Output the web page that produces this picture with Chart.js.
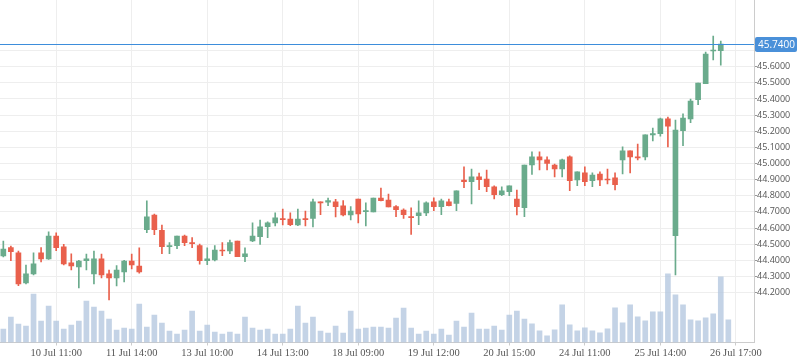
<!DOCTYPE html>
<html>
<head>
<meta charset="utf-8">
<script src="https://cdn.jsdelivr.net/npm/chart.js@4.4.0/dist/chart.umd.min.js"></script>
<style>
  html, body { margin: 0; padding: 0; background: #fff; }
</style>
</head>
<body>
<canvas id="chart" width="798" height="363"></canvas>
<script>
// ---------------- data ----------------
const opens = [44.427,44.479,44.446,44.260,44.316,44.446,44.409,44.551,44.483,44.384,
  44.359,44.398,44.316,44.409,44.316,44.291,44.328,44.396,44.365,44.590,
  44.681,44.586,44.485,44.491,44.551,44.510,44.491,44.398,44.402,44.464,
  44.458,44.520,44.423,44.520,44.547,44.609,44.632,44.659,44.656,44.619,
  44.659,44.659,44.762,44.760,44.762,44.737,44.681,44.780,44.702,44.700,
  44.786,44.774,44.733,44.712,44.671,44.677,44.694,44.762,44.733,44.762,
  44.752,44.898,44.888,44.917,44.904,44.855,44.807,44.826,44.780,44.727,
  44.991,45.041,45.022,44.991,44.966,45.041,44.898,44.942,44.894,44.935,
  44.904,44.911,45.022,45.078,45.041,45.041,45.177,45.185,45.276,44.553,
  45.203,45.276,45.395,45.494,45.697,45.699];
const highs = [44.520,44.489,44.458,44.371,44.446,44.479,44.576,44.570,44.499,44.441,
  44.400,44.439,44.458,44.439,44.340,44.367,44.400,44.439,44.477,44.768,
  44.687,44.619,44.510,44.551,44.557,44.541,44.501,44.477,44.491,44.510,
  44.526,44.520,44.477,44.632,44.650,44.638,44.694,44.718,44.694,44.718,
  44.706,44.780,44.762,44.786,44.778,44.770,44.733,44.780,44.756,44.786,
  44.848,44.811,44.739,44.719,44.725,44.768,44.762,44.787,44.780,44.780,
  44.830,44.979,44.966,44.941,44.960,44.861,44.855,44.861,44.836,44.990,
  45.072,45.072,45.041,44.997,45.028,45.047,44.948,44.979,44.942,44.948,
  44.966,44.942,45.103,45.078,45.121,45.177,45.220,45.282,45.288,45.269,
  45.307,45.399,45.499,45.691,45.790,45.759];
const lows = [44.421,44.398,44.243,44.254,44.309,44.390,44.405,44.460,44.371,44.340,
  44.229,44.340,44.254,44.291,44.155,44.241,44.266,44.347,44.320,44.572,
  44.559,44.442,44.442,44.473,44.491,44.479,44.377,44.373,44.396,44.429,
  44.442,44.423,44.392,44.516,44.499,44.541,44.613,44.619,44.615,44.615,
  44.613,44.607,44.683,44.739,44.669,44.675,44.650,44.632,44.613,44.700,
  44.768,44.731,44.671,44.659,44.560,44.621,44.677,44.708,44.683,44.737,
  44.708,44.851,44.749,44.838,44.826,44.780,44.801,44.801,44.681,44.671,
  44.932,44.960,44.960,44.917,44.917,44.832,44.863,44.863,44.857,44.863,
  44.874,44.836,44.935,44.942,45.022,45.022,45.140,45.170,45.102,44.309,
  45.110,45.253,45.364,45.494,45.641,45.610];
const closes = [44.470,44.454,44.254,44.316,44.378,44.409,44.551,44.479,44.378,44.365,
  44.396,44.409,44.409,44.309,44.291,44.340,44.396,44.371,44.328,44.669,
  44.590,44.485,44.491,44.551,44.510,44.503,44.398,44.409,44.464,44.458,
  44.510,44.423,44.440,44.551,44.607,44.632,44.663,44.652,44.621,44.656,
  44.652,44.762,44.756,44.770,44.733,44.681,44.706,44.687,44.708,44.786,
  44.770,44.731,44.714,44.683,44.665,44.694,44.756,44.733,44.768,44.739,
  44.830,44.888,44.917,44.900,44.857,44.807,44.830,44.861,44.733,44.990,
  45.041,45.022,45.000,44.966,45.022,44.894,44.948,44.888,44.929,44.898,
  44.898,44.869,45.078,45.041,45.035,45.177,45.185,45.276,45.232,45.207,
  45.282,45.387,45.499,45.678,45.701,45.740];
const volumes = [133,253,183,163,483,213,363,213,133,173,
  213,413,353,313,233,123,143,133,383,153,
  273,193,113,83,123,313,113,173,103,83,
  103,83,253,143,123,133,83,83,133,363,
  193,253,113,93,163,93,313,133,143,153,
  153,143,243,343,143,83,113,83,133,73,
  213,153,293,133,133,163,123,273,313,235,
  187,117,67,127,377,177,117,147,117,97,
  137,347,197,377,257,217,307,307,687,477,
  377,227,217,247,287,657,227];
const lastPrice = 45.74;

const tickIdx = [7, 17, 27, 37, 47, 57, 67, 77, 87, 97];
const tickLabels = ['10 Jul 11:00', '11 Jul 14:00', '13 Jul 10:00', '14 Jul 13:00', '18 Jul 09:00',
  '19 Jul 12:00', '20 Jul 15:00', '24 Jul 11:00', '25 Jul 14:00', '26 Jul 17:00'];
const priceTicks = [44.2, 44.3, 44.4, 44.5, 44.6, 44.7, 44.8, 44.9, 45.0, 45.1, 45.2, 45.3, 45.4, 45.5, 45.6, 45.7];

// ---------------- styles ----------------
const UP = '#6aab8c';
const DOWN = '#e9604c';
const LINE_BLUE = '#3d8ddb';

function candleColor(ctx) {
  const i = ctx.dataIndex;
  return closes[i] >= opens[i] ? UP : DOWN;
}

// ligne + étiquette du dernier prix
const lastPricePlugin = {
  id: 'lastPrice',
  afterDatasetsDraw(chart) {
    const { ctx, chartArea, scales } = chart;
    const y = Math.round(scales.y.getPixelForValue(lastPrice)) + 0.5;
    ctx.save();
    ctx.strokeStyle = LINE_BLUE;
    ctx.lineWidth = 1;
    ctx.beginPath();
    ctx.moveTo(chartArea.left, y);
    ctx.lineTo(chartArea.right, y);
    ctx.stroke();

    const bx = chartArea.right + 1, bw = 42, bh = 15, by = y - 7.5;
    ctx.fillStyle = '#4a90d9';
    ctx.beginPath();
    ctx.roundRect(bx, by, bw, bh, 2);
    ctx.fill();
    ctx.fillStyle = '#fff';
    ctx.font = '10px "Open Sans", sans-serif';
    ctx.textBaseline = 'middle';
    ctx.textAlign = 'left';
    ctx.fillText(lastPrice.toFixed(4), bx + 3, y + 0.5);
    ctx.restore();
  }
};

const chart = new Chart(document.getElementById('chart').getContext('2d'), {
  type: 'bar',
  data: {
    datasets: [
      {
        label: 'body',
        data: opens.map((o, i) => ({ x: i, y: [o, closes[i]] })),
        backgroundColor: candleColor,
        barThickness: 5,
        minBarLength: 1,
        grouped: false,
        order: 1
      },
      {
        label: 'wick',
        data: lows.map((l, i) => ({ x: i, y: [l, highs[i]] })),
        backgroundColor: candleColor,
        barThickness: 1,
        grouped: false,
        order: 2
      },
      {
        label: 'volume',
        data: volumes.map((v, i) => ({ x: i, y: v })),
        yAxisID: 'yv',
        backgroundColor: 'rgba(176, 196, 222, 0.75)',
        barThickness: 5,
        grouped: false,
        order: 3
      }
    ]
  },
  options: {
    responsive: false,
    animation: false,
    devicePixelRatio: 1,
    layout: { padding: 0 },
    plugins: {
      legend: { display: false },
      tooltip: { enabled: false }
    },
    scales: {
      x: {
        type: 'linear',
        min: -0.44,
        max: 99.4,
        offset: false,
        afterBuildTicks: (scale) => { scale.ticks = tickIdx.map(v => ({ value: v })); },
        afterFit: (scale) => {
          scale.height = 20.5;
          scale.paddingLeft = 0;
          scale.paddingRight = 0;
        },
        grid: { color: '#eeeeee', offset: false, tickLength: 3, tickColor: '#cccccc' },
        border: { color: '#cccccc' },
        ticks: {
          autoSkip: false,
          maxRotation: 0,
          padding: 1,
          color: '#555555',
          font: { family: '"Liberation Serif", serif', size: 10.5 },
          callback: (value) => tickLabels[tickIdx.indexOf(value)] || ''
        }
      },
      y: {
        position: 'right',
        min: 43.891,
        max: 46.013,
        beginAtZero: false,
        afterBuildTicks: (scale) => { scale.ticks = priceTicks.map(v => ({ value: v })); },
        afterFit: (scale) => {
          scale.width = 44;
          scale.paddingTop = 0;
          scale.paddingBottom = 0;
        },
        grid: { color: '#eeeeee', tickLength: 3, tickColor: '#999999' },
        border: { color: '#cccccc' },
        ticks: {
          padding: 0,
          color: '#555555',
          font: { family: '"Open Sans", sans-serif', size: 9 },
          callback: (value) => value > 45.65 ? '' : value.toFixed(4)
        }
      },
      yv: {
        display: false,
        min: 0,
        max: 3425
      }
    }
  },
  plugins: [lastPricePlugin]
});
</script>
</body>
</html>
